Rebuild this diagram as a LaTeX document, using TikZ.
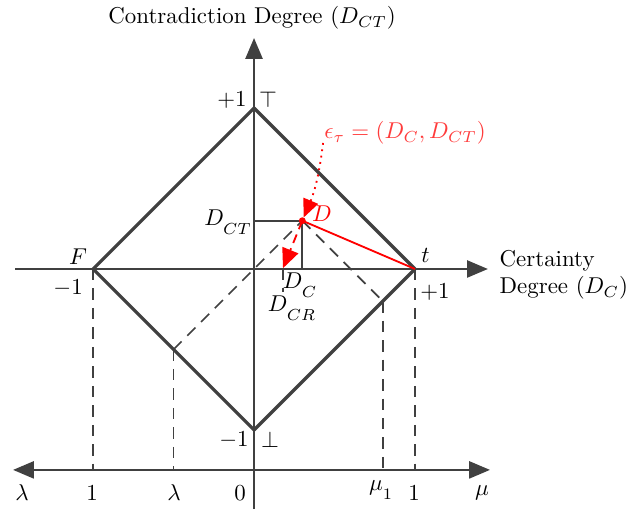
\documentclass[tikz,border=0pt]{standalone}
\usepackage{amsmath,amssymb}
\usepackage{tikz}
\usetikzlibrary{arrows.meta,positioning,calc}
\definecolor{axisgray}{HTML}{404040}
\definecolor{hotred}{HTML}{FF0000}
\definecolor{softred}{HTML}{FF3B3B}
\newcommand{\lowsub}[2]{#1_{\lower2.5pt\hbox{$\scriptstyle #2$}}}

\begin{document}
\begin{tikzpicture}[x=2.47cm,y=2.47cm,
  ax/.style={draw=axisgray,line width=1.1pt,-{Triangle[length=3.2mm,width=2.6mm]}},
  dax/.style={draw=axisgray,line width=1.1pt,{Triangle[length=3.2mm,width=2.6mm]}-{Triangle[length=3.2mm,width=2.6mm]}},
  lat/.style={draw=axisgray,line width=1.4pt,line join=round},
  thin/.style={draw=axisgray,line width=0.8pt},
  proj/.style={draw=axisgray,line width=0.75pt,dash pattern=on 5pt off 3.5pt},
  lbl/.style={inner sep=1pt}]
\useasboundingbox (-1.578,-1.491) rectangle (2.348,1.671);

% ---- points of the lattice
\coordinate (O) at (0,0);
\coordinate (top) at (0,1);
\coordinate (bot) at (0,-1);
\coordinate (F) at (-1,0);
\coordinate (t) at (1,0);
\coordinate (D) at (0.3,0.3);
\coordinate (Dc) at (0.3,0);
\coordinate (Dct) at (0,0.3);
\coordinate (Dcr) at (0.18,0.005);
\coordinate (Dcrend) at (0.18,-0.143);
\coordinate (ll) at (-0.5,-0.5);
\coordinate (lr) at (0.8,-0.2);

% ---- axis ends
\coordinate (xl) at (-1.484,0);
\coordinate (xr) at (1.453,0);
\coordinate (yb) at (0,-1.491);
\coordinate (yt) at (0,1.435);
\coordinate (bl) at (-1.497,-1.248);
\coordinate (br) at (1.466,-1.248);
\coordinate (bone) at (-1,-1.248);
\coordinate (blam) at (-0.5,-1.248);
\coordinate (bmu) at (0.8,-1.248);
\coordinate (btwo) at (1,-1.248);

% ---- projections onto the lower axis
\draw[proj] (F) -- (bone);
\draw[proj] (ll) -- (blam);
\draw[proj] (lr) -- (bmu);
\draw[proj] (t) -- (btwo);
\draw[proj] (ll) -- (D);
\draw[proj] (D) -- (lr);
\draw[proj] (Dcr) -- (Dcrend);

% ---- axes
\draw[ax] (xl) -- (xr);
\draw[ax] (yb) -- (yt);
\draw[dax] (bl) -- (br);

% ---- lattice
\draw[lat] (F) -- (top) -- (t) -- (bot) -- cycle;
\draw[thin] (Dct) -- (D) -- (Dc);

% ---- point D
\draw[hotred,line width=0.8pt] (D) -- (t);
\draw[hotred,line width=0.8pt,dash pattern=on 4pt off 2.5pt,-{Triangle[length=3mm,width=2.6mm]}] (D) -- (Dcr);
\fill[hotred] (D) circle (1.5pt);
\node[lbl,text=softred] (eps) at (0.938,0.845) {$\epsilon_\tau = (D_C, D_{CT})$};
\coordinate (epsfoot) at (0.429,0.783);
\draw[hotred,line width=0.8pt,dotted,-{Triangle[length=2.8mm,width=2.4mm]},shorten >=1.5pt] (epsfoot) to[bend left=8] (D);

% ---- labels
\node[lbl] (ylabel) at (-0.012,1.559) {Contradiction Degree ($D_{CT}$)};
\node[lbl,anchor=west,align=left] (xlabel) at (1.509,-0.037) {Certainty\\Degree ($D_C$)};
\node[lbl] (ptop) at (-0.137,1.05) {$+1$};
\node[lbl] (ttop) at (0.087,1.05) {$\top$};
\node[lbl] (mbot) at (-0.124,-1.062) {$-1$};
\node[lbl] (bbot) at (0.1,-1.062) {$\perp$};
\node[lbl] (fF) at (-1.093,0.075) {$F$};
\node[lbl] (mF) at (-1.155,-0.118) {$-1$};
\node[lbl] (tt) at (1.065,0.087) {$t$};
\node[lbl] (pt) at (1.124,-0.143) {$+1$};
\node[lbl] (lDct) at (-0.161,0.292) {$\lowsub{D}{CT}$};
\node[lbl] (lDc) at (0.286,-0.1) {$\lowsub{D}{C}$};
\node[lbl] (lDcr) at (0.236,-0.242) {$\lowsub{D}{CR}$};
\node[lbl,text=hotred] (lD) at (0.422,0.342) {$D$};

% ---- lower axis labels
\node[lbl] (lam1) at (-1.441,-1.391) {$\lambda$};
\node[lbl] (one1) at (-1.006,-1.391) {$1$};
\node[lbl] (lam2) at (-0.497,-1.391) {$\lambda$};
\node[lbl] (zero) at (-0.087,-1.391) {$0$};
\node[lbl] (mu1) at (0.789,-1.372) {$\lowsub{\mu}{1}$};
\node[lbl] (one2) at (0.994,-1.391) {$1$};
\node[lbl] (mu) at (1.416,-1.391) {$\mu$};
\end{tikzpicture}
\end{document}
